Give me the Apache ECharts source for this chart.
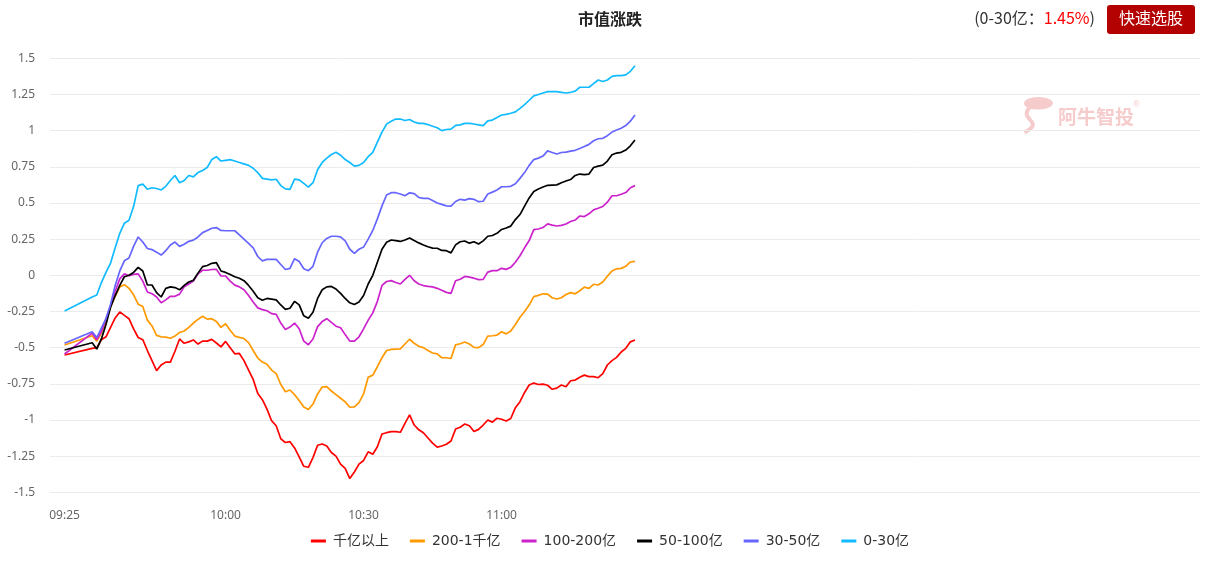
<!DOCTYPE html>
<html>
<head>
<meta charset="utf-8">
<script src="https://cdn.jsdelivr.net/npm/echarts@6/dist/echarts.min.js"></script>
<style>
html,body{margin:0;padding:0;background:#fff;}
#chart{width:1220px;height:561px;}
</style>
</head>
<body>
<div id="chart"></div>
<script>
// ---------- DATA ----------
function pad2(n){ return (n < 10 ? '0' : '') + n; }
// sample times: 09:25 then every minute 09:31 .. 11:29
const times = (function(){
  const t = ['09:25'];
  for (let m = 9*60+31; m <= 11*60+29; m++) t.push(pad2(Math.floor(m/60)) + ':' + pad2(m % 60));
  return t;
})();

const seriesNames = ['千亿以上','200-1千亿','100-200亿','50-100亿','30-50亿','0-30亿'];

const capOver1000 = [
 -0.551,-0.505,-0.50,-0.445,-0.425,-0.36,-0.295,-0.253,-0.277,-0.30,
 -0.37,-0.43,-0.445,-0.52,-0.59,-0.659,-0.62,-0.60,-0.60,-0.525,
 -0.44,-0.47,-0.46,-0.447,-0.475,-0.455,-0.455,-0.443,-0.468,-0.495,
 -0.457,-0.50,-0.543,-0.54,-0.59,-0.655,-0.72,-0.817,-0.86,-0.925,
 -1.005,-1.04,-1.13,-1.156,-1.15,-1.193,-1.255,-1.32,-1.327,-1.26,
 -1.175,-1.166,-1.18,-1.225,-1.25,-1.305,-1.335,-1.405,-1.36,-1.305,
 -1.28,-1.22,-1.237,-1.185,-1.097,-1.088,-1.081,-1.081,-1.085,-1.023,
 -0.965,-1.035,-1.068,-1.088,-1.125,-1.16,-1.188,-1.18,-1.168,-1.145,
 -1.063,-1.05,-1.028,-1.04,-1.08,-1.065,-1.035,-1.0,-1.015,-0.988,
 -0.995,-1.007,-0.99,-0.915,-0.874,-0.81,-0.758,-0.745,-0.755,-0.752,
 -0.76,-0.788,-0.78,-0.758,-0.77,-0.729,-0.724,-0.705,-0.69,-0.70,
 -0.70,-0.708,-0.68,-0.62,-0.59,-0.567,-0.53,-0.505,-0.46,-0.447
];
const cap200to1000 = [
 -0.482,-0.418,-0.455,-0.40,-0.32,-0.22,-0.145,-0.08,-0.065,-0.09,
 -0.135,-0.2,-0.215,-0.31,-0.35,-0.415,-0.425,-0.427,-0.435,-0.42,
 -0.395,-0.385,-0.36,-0.33,-0.305,-0.283,-0.303,-0.3,-0.32,-0.36,
 -0.335,-0.38,-0.42,-0.429,-0.437,-0.465,-0.52,-0.572,-0.60,-0.615,
 -0.655,-0.68,-0.755,-0.805,-0.793,-0.825,-0.866,-0.91,-0.928,-0.89,
 -0.82,-0.772,-0.77,-0.80,-0.825,-0.85,-0.875,-0.912,-0.91,-0.88,
 -0.82,-0.705,-0.69,-0.632,-0.57,-0.52,-0.512,-0.51,-0.508,-0.475,
 -0.442,-0.47,-0.49,-0.50,-0.52,-0.537,-0.543,-0.57,-0.57,-0.575,
 -0.481,-0.473,-0.461,-0.475,-0.498,-0.5,-0.478,-0.42,-0.418,-0.413,
 -0.39,-0.405,-0.385,-0.34,-0.29,-0.25,-0.206,-0.147,-0.139,-0.128,
 -0.13,-0.155,-0.164,-0.155,-0.133,-0.12,-0.128,-0.107,-0.082,-0.09,
 -0.062,-0.067,-0.046,-0.006,0.03,0.045,0.048,0.062,0.092,0.096
];
const cap100to200 = [
 -0.544,-0.40,-0.445,-0.39,-0.30,-0.21,-0.11,-0.025,0.01,-0.003,
 0.006,0.01,-0.04,-0.115,-0.127,-0.15,-0.19,-0.17,-0.145,-0.145,
 -0.13,-0.08,-0.06,-0.04,0.01,0.035,0.035,0.04,0.041,-0.005,
 -0.005,-0.04,-0.068,-0.08,-0.10,-0.14,-0.185,-0.225,-0.237,-0.245,
 -0.265,-0.27,-0.33,-0.375,-0.358,-0.33,-0.37,-0.455,-0.48,-0.44,
 -0.355,-0.32,-0.30,-0.325,-0.352,-0.363,-0.41,-0.455,-0.455,-0.425,
 -0.37,-0.31,-0.26,-0.18,-0.07,-0.043,-0.037,-0.05,-0.06,-0.028,
 0.0,-0.038,-0.06,-0.071,-0.077,-0.08,-0.09,-0.103,-0.118,-0.125,
 -0.038,-0.027,-0.008,-0.013,-0.02,-0.03,-0.028,0.022,0.032,0.032,
 0.048,0.041,0.055,0.09,0.135,0.19,0.24,0.316,0.32,0.33,
 0.355,0.347,0.341,0.345,0.355,0.372,0.382,0.41,0.406,0.425,
 0.452,0.463,0.476,0.505,0.55,0.55,0.56,0.572,0.605,0.62
];
const cap50to100 = [
 -0.516,-0.466,-0.51,-0.44,-0.34,-0.22,-0.14,-0.07,-0.01,0.0,
 0.02,0.055,0.03,-0.067,-0.067,-0.12,-0.15,-0.09,-0.08,-0.085,
 -0.10,-0.07,-0.046,-0.034,0.015,0.06,0.068,0.083,0.087,0.03,
 0.02,0.005,-0.01,-0.02,-0.037,-0.07,-0.11,-0.155,-0.172,-0.16,
 -0.165,-0.17,-0.205,-0.235,-0.228,-0.18,-0.205,-0.28,-0.297,-0.255,
 -0.16,-0.10,-0.08,-0.077,-0.095,-0.125,-0.16,-0.19,-0.202,-0.185,
 -0.14,-0.06,0.0,0.09,0.18,0.228,0.244,0.24,0.234,0.244,
 0.258,0.24,0.224,0.21,0.197,0.188,0.187,0.172,0.17,0.155,
 0.21,0.232,0.237,0.222,0.232,0.216,0.238,0.27,0.275,0.29,
 0.317,0.327,0.34,0.385,0.42,0.478,0.535,0.58,0.597,0.61,
 0.622,0.624,0.625,0.64,0.652,0.662,0.69,0.70,0.696,0.70,
 0.745,0.755,0.762,0.79,0.833,0.845,0.85,0.866,0.895,0.935
];
const cap30to50 = [
 -0.47,-0.39,-0.43,-0.365,-0.30,-0.20,-0.07,0.03,0.10,0.12,
 0.20,0.265,0.23,0.185,0.178,0.16,0.14,0.17,0.21,0.23,
 0.20,0.215,0.235,0.243,0.265,0.295,0.31,0.325,0.33,0.31,
 0.308,0.308,0.308,0.28,0.25,0.22,0.19,0.13,0.10,0.11,
 0.11,0.11,0.075,0.04,0.048,0.115,0.095,0.045,0.032,0.062,
 0.16,0.225,0.255,0.27,0.27,0.265,0.238,0.18,0.152,0.18,
 0.195,0.25,0.31,0.39,0.48,0.555,0.571,0.571,0.562,0.55,
 0.57,0.565,0.538,0.532,0.532,0.517,0.50,0.49,0.48,0.478,
 0.51,0.525,0.52,0.53,0.525,0.509,0.512,0.562,0.575,0.59,
 0.612,0.612,0.615,0.633,0.67,0.71,0.76,0.80,0.81,0.824,
 0.86,0.849,0.838,0.849,0.852,0.858,0.864,0.876,0.89,0.905,
 0.93,0.944,0.947,0.965,0.99,1.004,1.017,1.035,1.065,1.108
];
const cap0to30 = [
 -0.247,-0.15,-0.136,-0.05,0.02,0.085,0.19,0.29,0.36,0.38,
 0.475,0.62,0.63,0.595,0.605,0.60,0.59,0.615,0.655,0.69,
 0.64,0.655,0.69,0.68,0.71,0.725,0.745,0.80,0.82,0.79,
 0.795,0.80,0.79,0.78,0.77,0.76,0.74,0.71,0.67,0.665,
 0.66,0.664,0.62,0.597,0.594,0.665,0.66,0.635,0.61,0.64,
 0.73,0.78,0.81,0.835,0.85,0.83,0.80,0.78,0.755,0.76,
 0.78,0.82,0.85,0.92,0.99,1.045,1.065,1.08,1.08,1.07,
 1.077,1.06,1.05,1.05,1.042,1.03,1.02,1.0,1.008,1.01,
 1.037,1.04,1.05,1.05,1.046,1.04,1.035,1.068,1.073,1.09,
 1.108,1.112,1.12,1.13,1.154,1.18,1.21,1.24,1.25,1.26,
 1.27,1.27,1.27,1.265,1.26,1.265,1.273,1.30,1.30,1.30,
 1.325,1.35,1.34,1.35,1.375,1.38,1.38,1.385,1.41,1.449
];

const seriesColors = ['#ff0000','#ff9900','#cc22cc','#000000','#6666ff','#11bbff'];
const xTickLabels = ['09:25','10:00','10:30','11:00'];
const yTicks = { min: -1.5, max: 1.5, step: 0.25 };
const headline = { label: '0-30亿', value: '1.45%' };

// ---------- CHART ----------
function minuteOffset(t){
  const p = t.split(':');
  let m = (+p[0])*60 + (+p[1]) - (9*60+25);
  if (+p[0] >= 13) m -= 90;   // lunch break compressed
  return m;
}
const allData = [capOver1000, cap200to1000, cap100to200, cap50to100, cap30to50, cap0to30];
const tickOffsets = xTickLabels.map(minuteOffset);
const xMin = -3.17, xMax = xMin + 250;
const wm = '#f6cbcb';
const mixFont = '"DejaVu Sans", "Noto Sans CJK SC", sans-serif';

const chart = echarts.init(document.getElementById('chart'));
chart.setOption({
  animation: false,
  backgroundColor: '#fff',
  title: {
    text: '市值涨跌', left: 'center', top: 11, padding: 0,
    textStyle: { fontSize: 16, fontWeight: 'bold', color: '#222', fontFamily: 'Noto Sans CJK SC' }
  },
  legend: {
    data: seriesNames, bottom: 8, left: 'center',
    icon: 'rect', itemWidth: 15, itemHeight: 3, itemGap: 21,
    textStyle: { fontSize: 14, color: '#333', fontFamily: mixFont, padding: [0, 0, 0, 2] }
  },
  grid: { left: 50, right: 20, top: 58.3, bottom: 68.7, containLabel: false },
  xAxis: {
    type: 'value', min: xMin, max: xMax,
    axisLine: { show: false }, axisTick: { show: false }, splitLine: { show: false },
    axisLabel: {
      customValues: tickOffsets,
      formatter: function(v){ const i = tickOffsets.indexOf(Math.round(v)); return i >= 0 ? xTickLabels[i] : ''; },
      color: '#666', fontSize: 12, margin: 17, fontFamily: 'Noto Sans'
    }
  },
  yAxis: {
    type: 'value', min: yTicks.min, max: yTicks.max, interval: yTicks.step,
    axisLine: { show: false }, axisTick: { show: false },
    splitLine: { lineStyle: { color: '#ebebeb', width: 1 } },
    axisLabel: { color: '#666', fontSize: 12, margin: 15, fontFamily: 'Noto Sans' }
  },
  series: seriesNames.map(function(name, k){
    return {
      name: name, type: 'line', symbol: 'none', showSymbol: false,
      lineStyle: { width: 1.7, color: seriesColors[k] },
      itemStyle: { color: seriesColors[k] },
      data: times.map(function(t, i){ return [minuteOffset(t), allData[k][i]]; })
    };
  }),
  graphic: { elements: [
    { type: 'text', right: 125, top: 10,
      style: { text: '{a|(' + headline.label + '：}{b|' + headline.value + '}{a|)}',
        rich: { a: { fontSize: 16, fill: '#333', color: '#333', fontFamily: 'Noto Sans CJK SC' },
                b: { fontSize: 16, fill: '#ff0000', color: '#ff0000', fontFamily: 'Noto Sans CJK SC' } } } },
    { type: 'rect', left: 1107, top: 5, shape: { width: 88, height: 29, r: 3 }, style: { fill: '#b30000' } },
    { type: 'text', left: 1119, top: 10, style: { text: '快速选股', fill: '#fff', fontSize: 16, fontFamily: 'Noto Sans CJK SC' } },
    { type: 'circle', left: 1024, top: 97, shape: { r: 9 }, scaleX: 1.6, scaleY: 0.7, style: { fill: wm }, silent: true },
    { type: 'bezierCurve', left: 1022, top: 104, silent: true,
      shape: { x1: 14, y1: 0, cpx1: 0, cpy1: 14, cpx2: 30, cpy2: 14, x2: 8, y2: 26 },
      style: { stroke: wm, lineWidth: 4, fill: null } },
    { type: 'text', left: 1058, top: 107, silent: true,
      style: { text: '阿牛智投', fill: wm, fontSize: 19, fontWeight: 'bold', fontFamily: 'Noto Sans CJK SC' } },
    { type: 'text', left: 1133, top: 100, silent: true, style: { text: '®', fill: wm, fontSize: 9 } }
  ]}
});
</script>
</body>
</html>
